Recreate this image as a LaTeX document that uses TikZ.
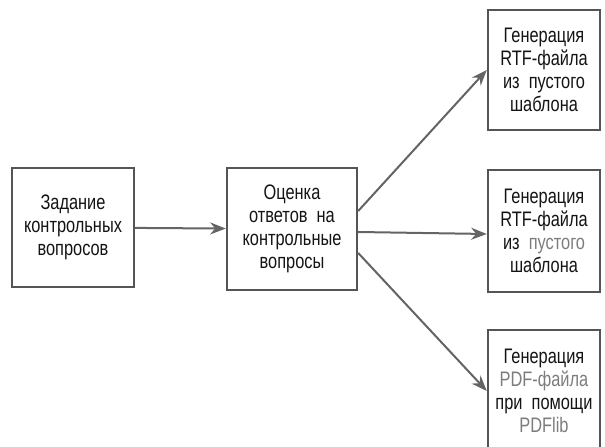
\documentclass[tikz,border=0pt]{standalone}
\usepackage{fontspec}
\setmainfont{Liberation Sans}[FakeStretch=0.78]
\usepackage{tikz}
\usetikzlibrary{arrows.meta,positioning}
\usepackage{xcolor}
\definecolor{ink}{RGB}{20,20,20}
\definecolor{frame}{RGB}{85,85,85}
\definecolor{wire}{RGB}{100,100,100}
\definecolor{pale}{RGB}{125,125,125}
\tikzset{
  box/.style={draw=frame,line width=2.4pt,fill=white,inner sep=2pt,
    text=ink,align=center,font=\fontsize{21}{22.8}\selectfont},
  arr/.style={-{Stealth[length=5.5mm,width=4.2mm]},line width=2pt,wire},
}
\begin{document}
\begin{tikzpicture}[x=1pt,y=1pt]
  \useasboundingbox (0,0) rectangle (605,447);
  \node[box,minimum width=122pt,minimum height=119pt] (task) at (73,219.5)
    {Задание\\контрольных\\вопросов};
  \node[box,minimum width=130pt,minimum height=122pt] (eval) at (292,218)
    {Оценка\\ответов\ \ на\\контрольные\\вопросы};
  \node[box,minimum width=112pt,minimum height=120pt] (rtfA) at (544,377)
    {Генерация\\RTF-файла\\из\ \ пустого\\шаблона};
  \node[box,minimum width=112pt,minimum height=122pt] (rtfB) at (544,216)
    {Генерация\\RTF-файла\\из\ \ \textcolor{pale}{пустого}\\шаблона};
  \node[box,minimum width=112pt,minimum height=122pt] (pdf) at (544,56)
    {Генерация\\\textcolor{pale}{PDF-файла}\\при\ \ помощи\\\textcolor{pale}{PDFlib}};
  \draw[arr] (task) -- (eval);
  \draw[arr] ([yshift=18pt]eval.east) -- (rtfA.west);
  \draw[arr] ([yshift=-3pt]eval.east) -- ([yshift=-3pt]rtfB.west);
  \draw[arr] ([yshift=-24pt]eval.east) -- (pdf.west);
\end{tikzpicture}
\end{document}
